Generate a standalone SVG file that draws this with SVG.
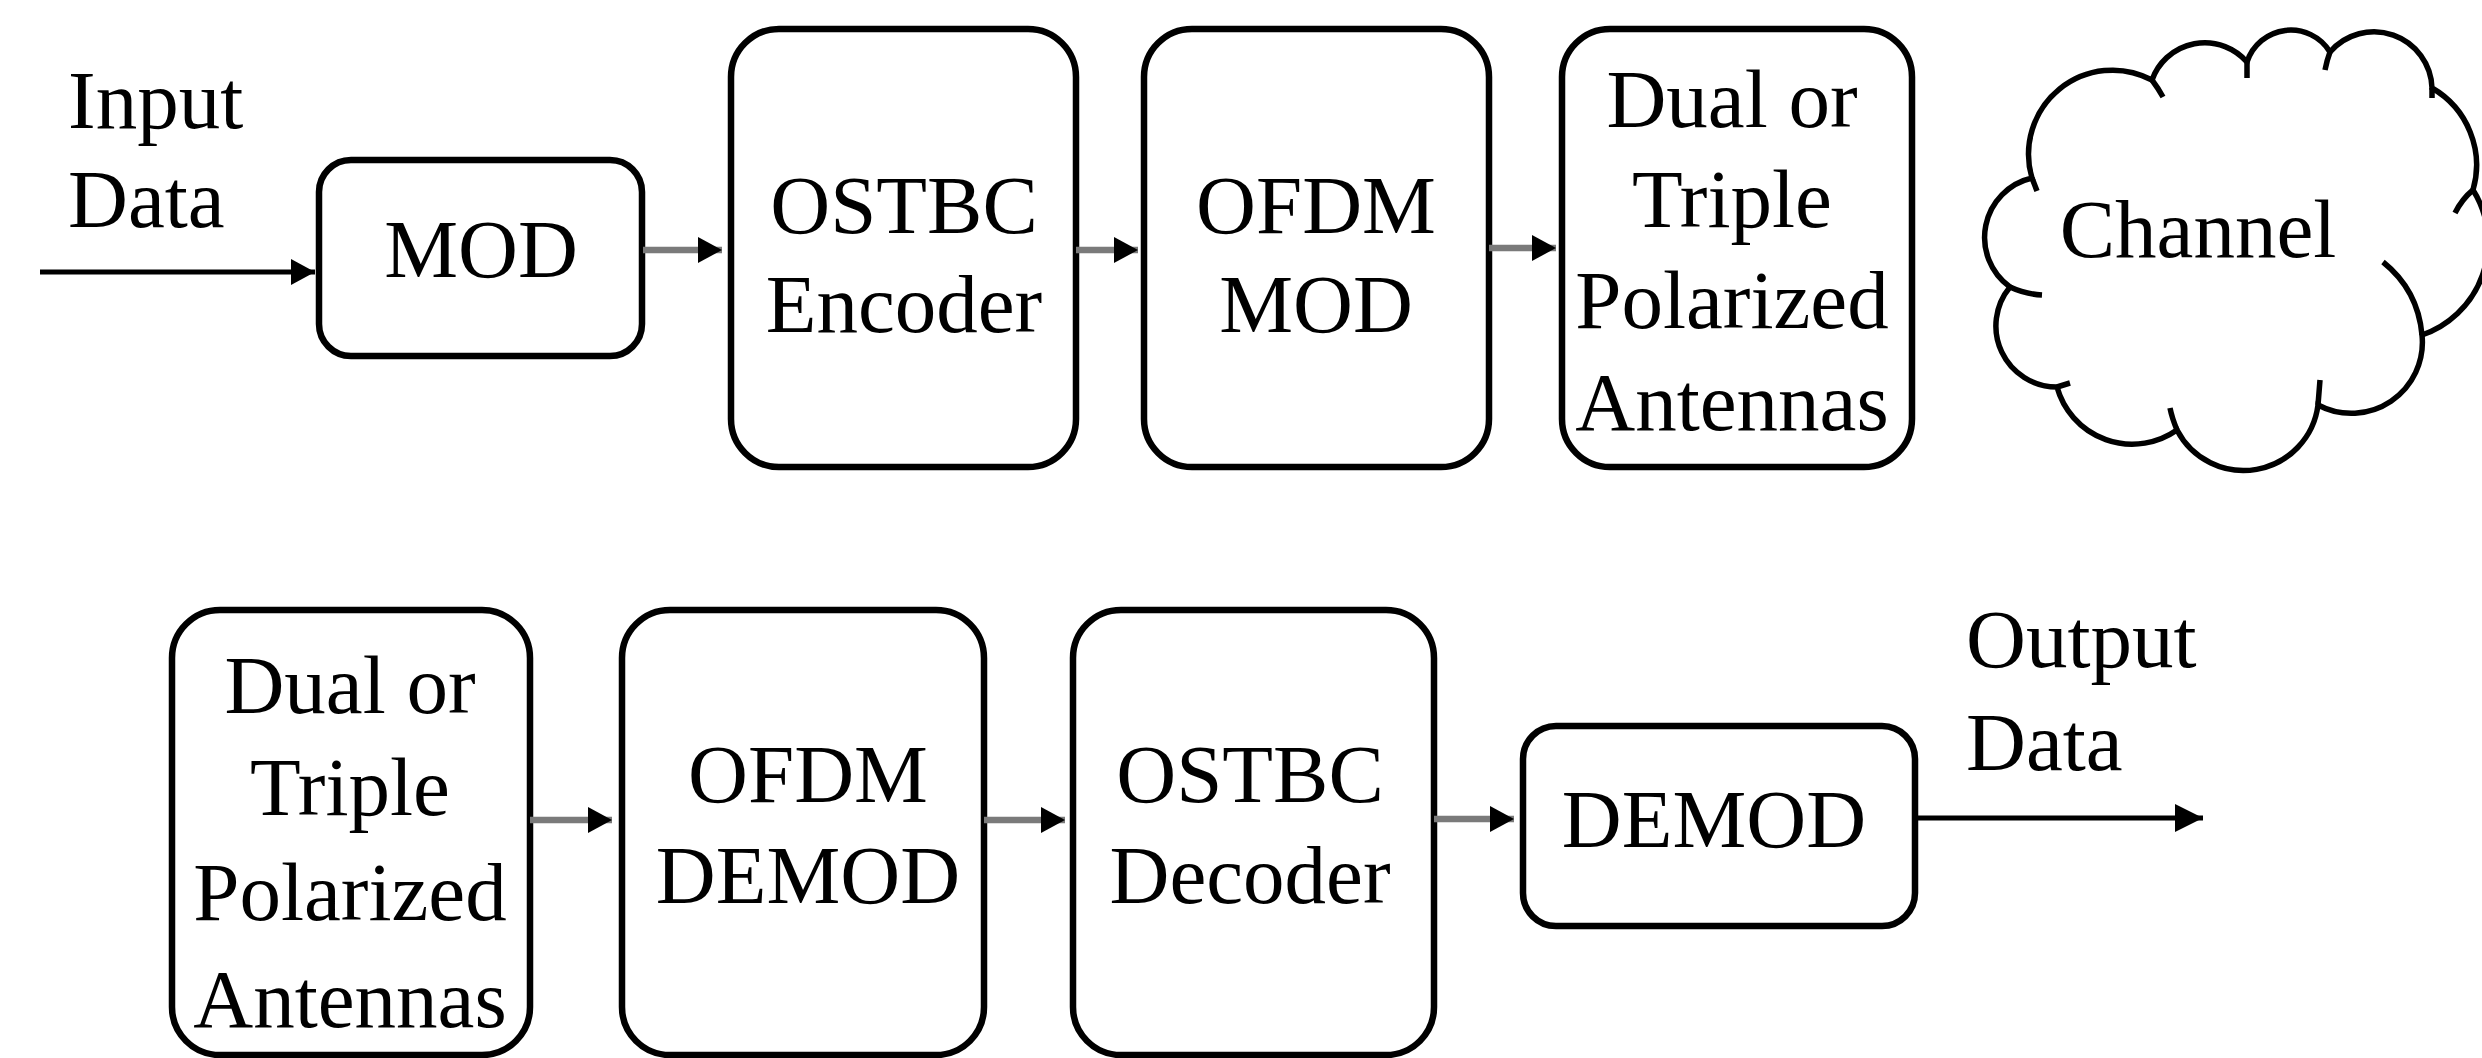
<svg xmlns="http://www.w3.org/2000/svg" width="2482" height="1058" viewBox="0 0 2482 1058">
<style>
.box{fill:#fff;stroke:#000;stroke-width:6.5}
.t{font-family:"Liberation Serif","Times New Roman",serif;font-size:83px;fill:#000}
.c{text-anchor:middle}
.conn{stroke:#7a7a7a;stroke-width:6.5;fill:none}
.io{stroke:#000;stroke-width:5;fill:none}
.cloud{fill:#fff;stroke:#000;stroke-width:5.5;stroke-linejoin:miter}
.stub{fill:none;stroke:#000;stroke-width:5.5}
</style>
<defs>
<marker id="ah" viewBox="0 0 24 26" refX="24" refY="13" markerWidth="24" markerHeight="26" markerUnits="userSpaceOnUse" orient="auto">
<path d="M0,0 L24,13 L0,26 Z" fill="#000"/>
</marker>
<marker id="ahb" viewBox="0 0 28 28" refX="28" refY="14" markerWidth="28" markerHeight="28" markerUnits="userSpaceOnUse" orient="auto">
<path d="M0,0 L28,14 L0,28 Z" fill="#000"/>
</marker>
</defs>
<rect width="2482" height="1058" fill="#fff"/>

<g id="input-label">
<text class="t" x="68" y="128">Input</text>
<text class="t" x="68" y="227">Data</text>
</g>
<g id="mod">
<rect class="box" x="319" y="160" width="323" height="196" rx="32" ry="32"/>
<text class="t c" x="481" y="277">MOD</text>
</g>
<g id="ostbc-encoder">
<rect class="box" x="731" y="29" width="345" height="438" rx="48" ry="48"/>
<text class="t c" x="904" y="233">OSTBC</text>
<text class="t c" x="904" y="332">Encoder</text>
</g>
<g id="ofdm-mod">
<rect class="box" x="1144" y="29" width="345" height="438" rx="48" ry="48"/>
<text class="t c" x="1316" y="233">OFDM</text>
<text class="t c" x="1316" y="332">MOD</text>
</g>
<g id="tx-antennas">
<rect class="box" x="1562" y="29" width="350" height="438" rx="48" ry="48"/>
<text class="t c" x="1732" y="127">Dual or</text>
<text class="t c" x="1732" y="227">Triple</text>
<text class="t c" x="1732" y="328">Polarized</text>
<text class="t c" x="1732" y="430">Antennas</text>
</g>
<g id="channel">
<path class="cloud" d="M2032,178 A84,84 0 0,1 2152,80 A56,56 0 0,1 2247,62 A46,46 0 0,1 2330,52 A58,58 0 0,1 2432,88 A89,89 0 0,1 2473,190 A98,98 0 0,1 2422,335 A71,71 0 0,1 2318,405 A75,75 0 0,1 2177,430 A78,78 0 0,1 2057,387 A61,61 0 0,1 2010,287 A61,61 0 0,1 2032,178 Z"/>
<path class="stub" d="M2032,178 L2037,191 M2010,287 Q2025,294 2042,295 M2057,387 L2070,383 M2177,430 Q2172,418 2170,408 M2318,405 L2320,380 M2422,335 Q2418,290 2383,262 M2473,190 Q2462,199 2455,213 M2432,88 L2432,98 M2330,52 Q2327,60 2325,70 M2247,62 L2247,78 M2152,80 Q2158,88 2163,97"/>
<text class="t c" x="2198" y="257">Channel</text>
</g>

<g id="rx-antennas">
<rect class="box" x="172" y="610" width="358" height="445" rx="48" ry="48"/>
<text class="t c" x="350" y="713">Dual or</text>
<text class="t c" x="350" y="815">Triple</text>
<text class="t c" x="350" y="920">Polarized</text>
<text class="t c" x="350" y="1027">Antennas</text>
</g>
<g id="ofdm-demod">
<rect class="box" x="622" y="610" width="362" height="445" rx="48" ry="48"/>
<text class="t c" x="808" y="802">OFDM</text>
<text class="t c" x="808" y="903">DEMOD</text>
</g>
<g id="ostbc-decoder">
<rect class="box" x="1073" y="610" width="361" height="445" rx="48" ry="48"/>
<text class="t c" x="1250" y="802">OSTBC</text>
<text class="t c" x="1250" y="903">Decoder</text>
</g>
<g id="demod">
<rect class="box" x="1523" y="726" width="392" height="200" rx="33" ry="33"/>
<text class="t c" x="1714" y="847">DEMOD</text>
</g>
<g id="output-label">
<text class="t" x="1966" y="667">Output</text>
<text class="t" x="1966" y="770">Data</text>
</g>

<g id="connectors">
<path class="io" d="M40,272 L315,272" marker-end="url(#ah)"/>
<path class="conn" d="M643,250 L722,250" marker-end="url(#ah)"/>
<path class="conn" d="M1076,250 L1138,250" marker-end="url(#ah)"/>
<path class="conn" d="M1489,248 L1556,248" marker-end="url(#ah)"/>
<path class="conn" d="M530,820 L612,820" marker-end="url(#ah)"/>
<path class="conn" d="M984,820 L1065,820" marker-end="url(#ah)"/>
<path class="conn" d="M1434,819 L1514,819" marker-end="url(#ah)"/>
<path class="io" d="M1915,818 L2203,818" marker-end="url(#ahb)"/>
</g>
</svg>
